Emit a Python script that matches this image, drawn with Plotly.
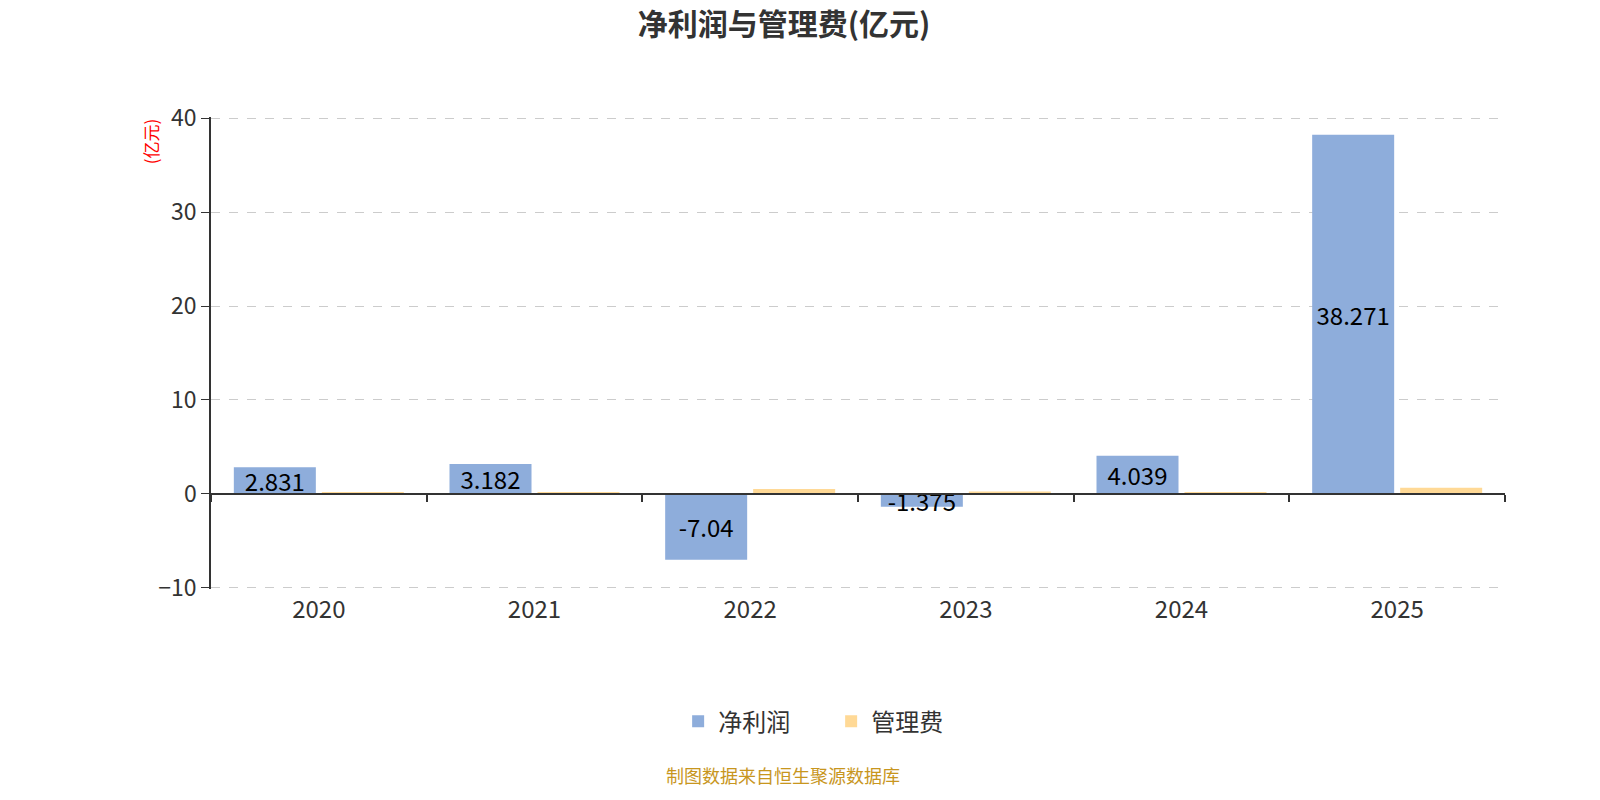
import plotly.graph_objects as go

years = ["2020", "2021", "2022", "2023", "2024", "2025"]
net_profit = [2.831, 3.182, -7.04, -1.375, 4.039, 38.271]
mgmt_fee = [0.1, 0.15, 0.5, 0.25, 0.2, 0.65]
y_ticks = [-10, 0, 10, 20, 30, 40]
y_range = [-10.15, 40.15]

FONT = "Noto Sans CJK SC"

fig = go.Figure()
fig.add_trace(go.Bar(
    name="净利润", x=years, y=net_profit,
    marker=dict(color="#8EADDB", line=dict(width=0)),
    text=[str(v) for v in net_profit], textposition="inside",
    insidetextanchor="middle", textangle=0,
    textfont=dict(size=24, color="#000000", family=FONT),
    cliponaxis=False,
))
fig.add_trace(go.Bar(
    name="管理费", x=years, y=mgmt_fee,
    marker=dict(color="#FFD996", line=dict(width=0)),
    textposition="none",
))

# axis line at zero with ticks at category boundaries
fig.add_trace(go.Scatter(x=[None], y=[None], xaxis="x2", yaxis="y", showlegend=False))

zero_pos = (0 - y_range[0]) / (y_range[1] - y_range[0])

fig.update_layout(
    width=1600, height=800,
    plot_bgcolor="white", paper_bgcolor="white",
    font=dict(family=FONT, color="#333333"),
    title=dict(text="<b>净利润与管理费(亿元)</b>", x=0.49, xanchor="center",
               y=0.969, yanchor="middle",
               font=dict(size=30, color="#333333", family=FONT)),
    margin=dict(l=211, r=95, t=117, b=211, pad=0),
    barmode="group", bargap=0.184, bargroupgap=0.068,
    uniformtext=dict(minsize=24, mode="show"),
    xaxis=dict(type="category", categoryarray=years, range=[-0.5, 5.5],
               showline=False, ticks="", showgrid=False, zeroline=False,
               tickfont=dict(size=24, color="#333333"), ticklabelstandoff=4),
    xaxis2=dict(overlaying="x", anchor="free", position=zero_pos, range=[-0.5, 5.5],
                tickvals=[-0.5, 0.5, 1.5, 2.5, 3.5, 4.5, 5.5],
                showline=True, linecolor="#333333", linewidth=2,
                ticks="outside", ticklen=7, tickcolor="#333333", tickwidth=1.5,
                showticklabels=False, showgrid=False, zeroline=False),
    yaxis=dict(range=y_range, tickvals=y_ticks, showline=True, linecolor="#333333",
               linewidth=1.5, ticks="outside", ticklen=8, tickcolor="#333333",
               showgrid=True, gridcolor="#CCCCCC", griddash="dash", gridwidth=1,
               zeroline=False, tickfont=dict(size=23, color="#333333")),
    legend=dict(orientation="h", x=0.361, xanchor="left", y=-0.281, yanchor="middle",
                font=dict(size=24, color="#333333"), itemwidth=30,
                entrywidth=108, entrywidthmode="pixels",
                traceorder="normal"),
    annotations=[
        dict(text="(亿元)", xref="paper", yref="paper", x=-0.047, y=0.949,
             xanchor="center", yanchor="middle", textangle=-90, showarrow=False,
             font=dict(size=17, color="red", family=FONT)),
        dict(text="制图数据来自恒生聚源数据库", xref="paper", yref="paper",
             x=0.4424, y=-0.394, xanchor="center", yanchor="middle", showarrow=False,
             font=dict(size=18, color="#C8961E", family=FONT)),
    ],
)

fig.write_html("out.html", config={"displayModeBar": False},
               post_script="document.body.style.margin='0';")
